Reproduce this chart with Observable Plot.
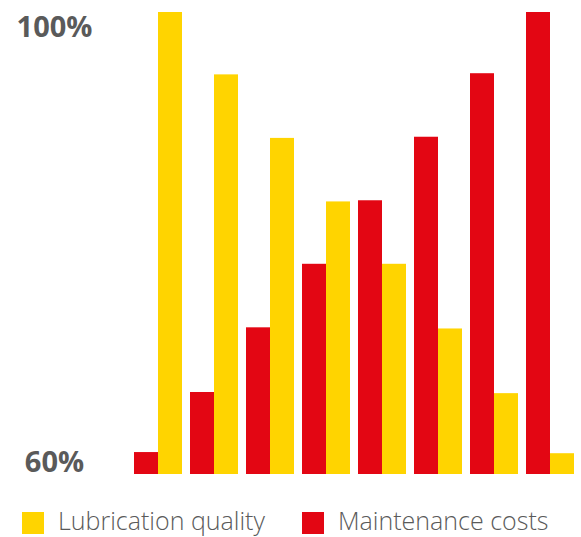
<!DOCTYPE html>
<html>
<head>
<meta charset="utf-8">
<script src="https://cdn.jsdelivr.net/npm/d3@7"></script>
<script src="https://cdn.jsdelivr.net/npm/@observablehq/plot@0.6"></script>
<style>
  html, body { margin: 0; padding: 0; background: #fff; }
  #chart { width: 581px; height: 537px; position: relative; overflow: hidden; }
  #legend { position: relative; height: 22px; margin-top: 22px; font-family: "Open Sans", sans-serif; font-weight: 300; font-size: 25px; line-height: 22px; color: #5a5a5a; }
  .item { position: absolute; top: 0; display: flex; align-items: center; height: 22px; white-space: nowrap; }
  .sw { width: 22px; height: 22px; margin-right: 14px; flex: none; }
  .lbl { position: relative; top: -3px; }
</style>
</head>
<body>
<div id="chart"></div>
<script>
// Data
const groups = ["1", "2", "3", "4", "5", "6", "7", "8"];
const seriesNames = ["Maintenance costs", "Lubrication quality"];
const maintenanceCosts = [61.9, 67.1, 72.7, 78.2, 83.7, 89.2, 94.7, 100];
const lubricationQuality = [100, 94.6, 89.1, 83.6, 78.2, 72.6, 67.0, 61.8];
const seriesColors = ["#E30613", "#FFD400"];
const legendOrder = ["Lubrication quality", "Maintenance costs"];

const data = [];
groups.forEach((g, i) => {
  data.push({group: g, series: seriesNames[0], value: maintenanceCosts[i]});
  data.push({group: g, series: seriesNames[1], value: lubricationQuality[i]});
});

const labelStyle = {fontFamily: "Open Sans, sans-serif", fontWeight: 700, fontSize: 29, fill: "#5a5a5a", letterSpacing: "0.5px"};

const plot = Plot.plot({
  width: 581,
  height: 490,
  marginLeft: 133,
  marginRight: 6,
  marginTop: 12,
  marginBottom: 16,
  style: {background: "transparent", overflow: "visible"},
  fx: {domain: groups, paddingInner: 0.147, paddingOuter: 0, axis: null, label: null},
  x: {domain: seriesNames, padding: 0, axis: null, label: null},
  y: {domain: [60, 100], label: null},
  color: {domain: seriesNames, range: seriesColors},
  marks: [
    Plot.barY(data, {fx: "group", x: "series", y1: () => 60, y2: "value", fill: "series", inset: 0}),
    Plot.axisY([100], {tickSize: 0, tickPadding: 80, textAnchor: "middle", lineAnchor: "top", dy: 4, tickFormat: d => d + "%", label: null, ...labelStyle}),
    Plot.axisY([60], {tickSize: 0, tickPadding: 80, textAnchor: "middle", lineAnchor: "bottom", dy: -3, tickFormat: d => d + "%", label: null, ...labelStyle})
  ]
});
const chart = document.getElementById("chart");
chart.appendChild(plot);

// Legend
const legend = document.createElement("div");
legend.id = "legend";
const lefts = [22, 302];
legendOrder.forEach((name, i) => {
  const item = document.createElement("div");
  item.className = "item";
  item.style.left = lefts[i] + "px";
  const sw = document.createElement("span");
  sw.className = "sw";
  sw.style.background = seriesColors[seriesNames.indexOf(name)];
  const t = document.createElement("span");
  t.className = "lbl";
  t.textContent = name;
  item.appendChild(sw);
  item.appendChild(t);
  legend.appendChild(item);
});
chart.appendChild(legend);
</script>
</body>
</html>
